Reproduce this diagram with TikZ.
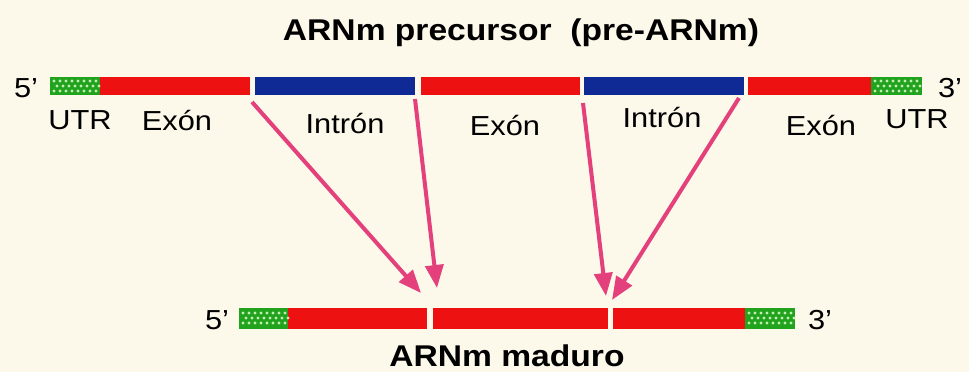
\documentclass[tikz,border=0pt]{standalone}
\usepackage{fontspec}
\setmainfont{Liberation Sans}[FakeStretch=1.12]
\usetikzlibrary{arrows.meta,calc}
\definecolor{bg}{HTML}{FCF8EA}
\definecolor{exred}{HTML}{EE1111}
\definecolor{inblue}{HTML}{0F2A95}
\definecolor{utrgreen}{HTML}{22A31E}
\definecolor{dotgreen}{HTML}{C4EDB6}
\definecolor{arrowpink}{HTML}{E4407C}
\tikzset{
  seg/.style={rectangle, inner sep=0pt, outer sep=0pt, draw=none},
  topseg/.style={seg, minimum height=18pt},
  botseg/.style={seg, minimum height=21pt},
  lbl/.style={inner sep=0pt, anchor=base, font=\fontsize{27.5}{32}\selectfont},
  ttl/.style={inner sep=0pt, anchor=base, font=\fontsize{30}{36}\selectfont\bfseries},
  splice/.style={draw=arrowpink, line width=4pt, -{Triangle[length=23pt,width=18pt]}}
}
\newcommand{\utrdots}[1]{%
  \foreach \dx in {0,6,...,42} {
    \fill[dotgreen] ($(#1.west)+(\dx+4,-5)$) circle (1.7pt);
    \fill[dotgreen] ($(#1.west)+(\dx+7,0)$) circle (1.7pt);
    \fill[dotgreen] ($(#1.west)+(\dx+4,5)$) circle (1.7pt);
  }
}
\begin{document}
\begin{tikzpicture}[x=1pt,y=-1pt]
\fill[bg] (0,0) rectangle (969,372);
\useasboundingbox (0,0) rectangle (969,372);

% title
\node[ttl] (title) at (521,40) {ARNm precursor\ \ (pre-ARNm)};

% top strand
\node[topseg, fill=utrgreen, minimum width=50pt] (u1) at (75,86) {};
\node[topseg, fill=exred, minimum width=150pt] (e1) at (175,86) {};
\node[topseg, fill=inblue, minimum width=160pt] (i1) at (335,86) {};
\node[topseg, fill=exred, minimum width=159pt] (e2) at (500.5,86) {};
\node[topseg, fill=inblue, minimum width=160pt] (i2) at (664,86) {};
\node[topseg, fill=exred, minimum width=123pt] (e3) at (809.5,86) {};
\node[topseg, fill=utrgreen, minimum width=51pt] (u2) at (896.5,86) {};
\utrdots{u1}
\utrdots{u2}

\node[lbl] (p5) at (26,97) {5’};
\node[lbl] (p3) at (950,97) {3’};
\node[lbl] (lu1) at (80,129) {UTR};
\node[lbl] (le1) at (177,130) {Exón};
\node[lbl] (li1) at (345,133) {Intrón};
\node[lbl] (le2) at (505,135) {Exón};
\node[lbl] (li2) at (662,127) {Intrón};
\node[lbl] (le3) at (821,135) {Exón};
\node[lbl] (lu2) at (917,128) {UTR};

% bottom strand
\node[botseg, fill=utrgreen, minimum width=49pt] (bu1) at (263.5,318) {};
\node[botseg, fill=exred, minimum width=139pt] (be1) at (357.5,318) {};
\node[botseg, fill=exred, minimum width=175pt] (be2) at (520.5,318) {};
\node[botseg, fill=exred, minimum width=132pt] (be3) at (679,318) {};
\node[botseg, fill=utrgreen, minimum width=50pt] (bu2) at (770,318) {};
\utrdots{bu1}
\utrdots{bu2}

\node[lbl] (q5) at (217,329) {5’};
\node[lbl] (q3) at (820,329) {3’};
\node[ttl] (mature) at (507,366) {ARNm maduro};

% splice arrows
\coordinate (a1s) at (252,102);
\coordinate (a1e) at (421,293);
\coordinate (a2s) at (415,99);
\coordinate (a2e) at (437,288);
\coordinate (a3s) at (583,103);
\coordinate (a3e) at (606,296);
\coordinate (a4s) at (739,98);
\coordinate (a4e) at (612,300);
\draw[splice] (a1s) -- (a1e);
\draw[splice] (a2s) -- (a2e);
\draw[splice] (a3s) -- (a3e);
\draw[splice] (a4s) -- (a4e);
\end{tikzpicture}
\end{document}
